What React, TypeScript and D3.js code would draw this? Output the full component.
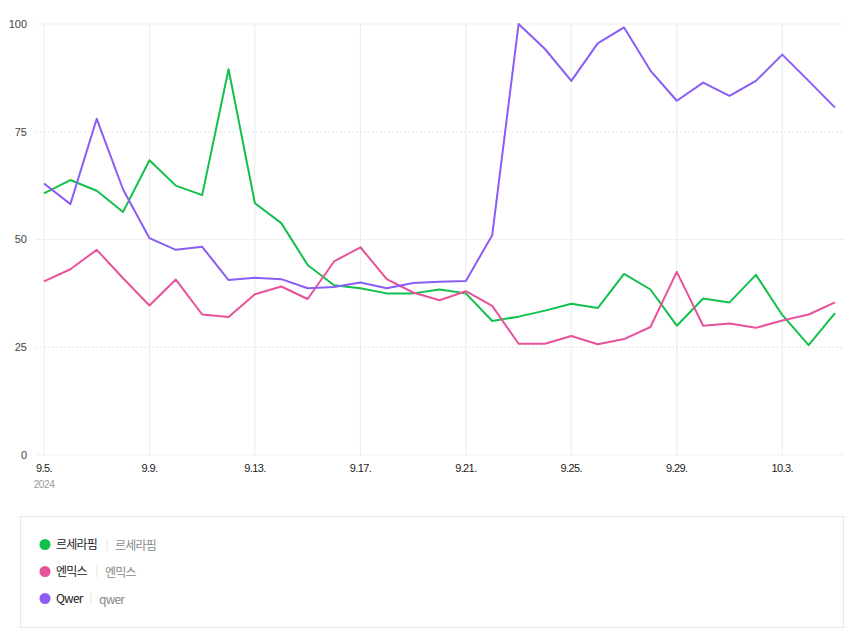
import React from 'react';
import * as d3 from 'd3';

// daily values, 2024-09-05 .. 2024-10-05
const startDay = new Date(2024, 8, 5);
const lesserafim = [60.7, 63.8, 61.3, 56.4, 68.4, 62.5, 60.3, 89.5, 58.4, 53.8, 44.1, 39.4, 38.7, 37.5, 37.5, 38.4, 37.5, 31.1, 32.1, 33.5, 35.1, 34.1, 42.0, 38.4, 30.0, 36.3, 35.4, 41.8, 32.5, 25.5, 32.9];
const nmixx = [40.3, 43.1, 47.6, 41.0, 34.7, 40.7, 32.6, 32.0, 37.3, 39.1, 36.2, 44.9, 48.2, 40.8, 37.7, 35.9, 38.0, 34.6, 25.8, 25.8, 27.6, 25.7, 26.9, 29.7, 42.5, 30.0, 30.5, 29.5, 31.2, 32.6, 35.4];
const qwer = [63.0, 58.2, 78.0, 61.6, 50.3, 47.6, 48.3, 40.6, 41.1, 40.8, 38.7, 39.0, 40.0, 38.7, 39.9, 40.2, 40.4, 51.0, 100, 94.2, 86.8, 95.5, 99.2, 89.2, 82.2, 86.4, 83.3, 86.8, 92.9, 86.8, 80.6];

const seriesNames = ['르세라핌', '엔믹스', 'Qwer'];
const seriesKeywords = ['르세라핌', '엔믹스', 'qwer'];
const seriesColors = ['#12c04c', '#e8529a', '#8b5cf6'];
const seriesValues = [lesserafim, nmixx, qwer];

const yTicks = [0, 25, 50, 75, 100];
const xTickLabels = ['9.5.', '9.9.', '9.13.', '9.17.', '9.21.', '9.25.', '9.29.', '10.3.'];
const yearLabel = '2024';

const W = 850;
const H = 636;
const margin = { top: 24, right: 15, bottom: 181, left: 44 };

const numFont = "'Liberation Sans', Arial, 'Noto Sans CJK KR', sans-serif";
const krFont = "'Noto Sans CJK KR', 'Liberation Sans', sans-serif";

const App = () => {
    const days = lesserafim.map((_, i) => d3.timeDay.offset(startDay, i));
    const x = d3.scaleTime()
        .domain([days[0], days[days.length - 1]])
        .range([margin.left, W - margin.right]);
    const y = d3.scaleLinear()
        .domain([0, 100])
        .range([H - margin.bottom, margin.top]);

    const tickDays = xTickLabels.map((_, i) => d3.timeDay.offset(startDay, i * 4));

    const line = d3.line<number>()
        .x((_, i) => x(days[i]))
        .y((d) => y(d));

    return (
        <svg width={W} height={H} style={{ position: 'absolute', left: 0, top: 0, background: '#fff' }}>
            {/* vertical grid */}
            {tickDays.map((d, i) => (
                <line key={'vg' + i} x1={x(d)} x2={x(d)} y1={y(100)} y2={y(0)} stroke="#ececec" strokeWidth={1} />
            ))}
            {/* horizontal grid */}
            {yTicks.map((t) => (
                <g key={'hg' + t}>
                    <line x1={36} x2={844} y1={y(t)} y2={y(t)}
                        stroke={t % 50 === 0 ? '#efefef' : '#e2e2e2'}
                        strokeWidth={1}
                        strokeDasharray={t % 50 === 0 ? undefined : '2,2'} />
                    <text x={27} y={y(t)} dy="0.35em" textAnchor="end" fontSize={11} fill="#444" fontFamily={numFont}>{t}</text>
                </g>
            ))}
            {/* x labels */}
            {tickDays.map((d, i) => (
                <text key={'xl' + i} x={x(d)} y={472} textAnchor="middle" fontSize={11} fill="#222" fontFamily={numFont} letterSpacing="-0.6">{xTickLabels[i]}</text>
            ))}
            <text x={x(tickDays[0])} y={488} textAnchor="middle" fontSize={10} fill="#999" fontFamily={numFont} letterSpacing="-0.4">{yearLabel}</text>

            {/* lines */}
            {seriesValues.map((vals, k) => (
                <path key={'s' + k} d={line(vals) || ''} fill="none" stroke={seriesColors[k]} strokeWidth={2} strokeLinejoin="round" />
            ))}

            {/* legend */}
            <rect x={20.5} y={516.5} width={823} height={111} fill="#fff" stroke="#e6e6e6" strokeWidth={1} />
            {seriesNames.map((name, k) => {
                const cy = 544.5 + k * 27;
                const nameW = [41, 31, 25][k];
                return (
                    <g key={'lg' + k}>
                        <circle cx={45} cy={cy} r={5.5} fill={seriesColors[k]} />
                        <text x={56} y={cy} dy="0.35em" fontSize={12} fill="#222" fontFamily={krFont} letterSpacing="-0.8">{name}</text>
                        <line x1={56 + nameW + 10} x2={56 + nameW + 10} y1={cy - 6} y2={cy + 6} stroke="#e4e4e4" />
                        <text x={56 + nameW + 18} y={cy + 1} dy="0.35em" fontSize={12} fill="#888" fontFamily={krFont} letterSpacing="-0.8">{seriesKeywords[k]}</text>
                    </g>
                );
            })}
        </svg>
    );
};

export default App;
